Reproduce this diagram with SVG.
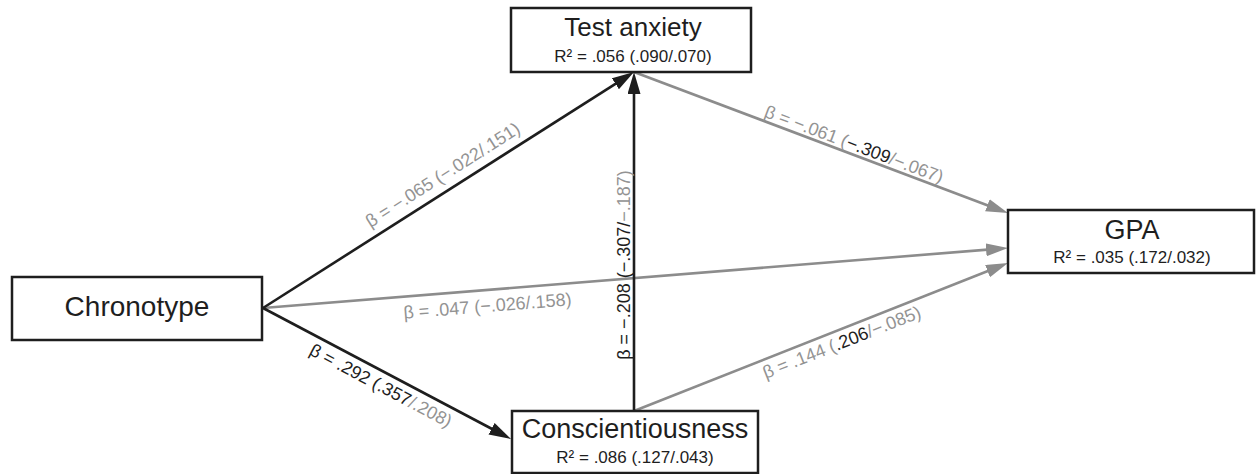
<svg xmlns="http://www.w3.org/2000/svg" width="1256" height="474" viewBox="0 0 1256 474">
<style>
text{font-family:"Liberation Sans",Arial,sans-serif;}
.box{fill:#fff;stroke:#1e1e1e;stroke-width:2.5;}
.title{font-size:27px;fill:#1e1e1e;text-anchor:middle;}
.r2{font-size:17px;fill:#1e1e1e;text-anchor:middle;}
.lbl{font-size:18px;fill:#939393;text-anchor:middle;}
.dk{fill:#1e1e1e;}
.blk{stroke:#1e1e1e;stroke-width:2.6;fill:none;}
.gry{stroke:#8c8c8c;stroke-width:2.6;fill:none;}
</style>
<defs>
<marker id="ab" markerUnits="userSpaceOnUse" markerWidth="24" markerHeight="14" refX="14" refY="6.5" orient="auto"><path d="M0,0 L22,6.5 L0,13 z" fill="#1e1e1e"/></marker>
<marker id="ag" markerUnits="userSpaceOnUse" markerWidth="24" markerHeight="14" refX="14" refY="6.5" orient="auto"><path d="M0,0 L22,6.5 L0,13 z" fill="#8c8c8c"/></marker>
</defs>
<rect width="1256" height="474" fill="#fff"/>
<g id="connectors">
<line class="gry" x1="263" y1="308" x2="1000.03" y2="248.64" marker-end="url(#ag)"/>
<line class="gry" x1="634" y1="72" x2="1000.51" y2="210.18" marker-end="url(#ag)"/>
<line class="gry" x1="634" y1="411" x2="1000.56" y2="265.94" marker-end="url(#ag)"/>
<line class="blk" x1="263" y1="308" x2="627.25" y2="76.29" marker-end="url(#ab)"/>
<line class="blk" x1="634" y1="411" x2="634" y2="80" marker-end="url(#ab)"/>
<line class="blk" x1="263" y1="308" x2="503.93" y2="435.26" marker-end="url(#ab)"/>
<text class="lbl" transform="translate(446,180) rotate(-32.4)">β = −.065 (−.022/.151)</text>
<text class="lbl" transform="translate(629.5,265) rotate(-90)"><tspan class="dk">β = −.208 (−.307/</tspan>−.187)</text>
<text class="lbl" transform="translate(852,150) rotate(20.66)">β = −.061 (<tspan class="dk">−.309</tspan>/−.067)</text>
<text class="lbl" transform="translate(488,312) rotate(-4.6)">β = .047 (−.026/.158)</text>
<text class="lbl" transform="translate(378,391) rotate(27.85)"><tspan class="dk">β = .292 (.357</tspan>/.208)</text>
<text class="lbl" transform="translate(844,348) rotate(-21.6)">β = .144 (<tspan class="dk">.206</tspan>/−.085)</text>
</g>
<g id="test-anxiety">
<rect class="box" x="511" y="8" width="240" height="64"/>
<text class="title" x="633" y="36" style="font-size:26px">Test anxiety</text>
<text class="r2" x="633" y="62">R² = .056 (.090/.070)</text>
</g>
<g id="gpa">
<rect class="box" x="1008" y="210" width="246" height="63"/>
<text class="title" x="1132" y="239">GPA</text>
<text class="r2" x="1132" y="263">R² = .035 (.172/.032)</text>
</g>
<g id="chronotype">
<rect class="box" x="12" y="277" width="250" height="63"/>
<text class="title" x="137" y="316" style="font-size:28px">Chronotype</text>
</g>
<g id="conscientiousness">
<rect class="box" x="512" y="411" width="246" height="62"/>
<text class="title" x="635" y="438">Conscientiousness</text>
<text class="r2" x="635" y="463">R² = .086 (.127/.043)</text>
</g>
</svg>
